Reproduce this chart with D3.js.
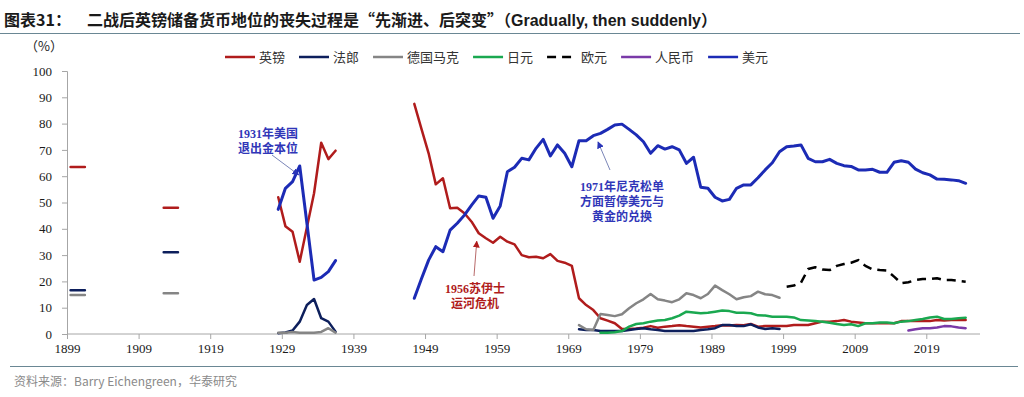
<!DOCTYPE html>
<html>
<head>
<meta charset="utf-8">
<script src="https://cdn.jsdelivr.net/npm/d3@7"></script>
<style>
  body { margin: 0; background: #fff; }
  svg { display: block; }
</style>
</head>
<body>
<div id="chart"></div>
<script>
// series: [year, share %]; null breaks the line
var gbp = [
  [1899,63.5],[1900,63.5],[1901,63.5], null,
  [1912,48.0],[1913,48.0],[1914,48.0], null,
  [1928,52.0],[1929,41.0],[1930,38.9],[1931,27.5],[1933,53.5],[1934,72.7],[1935,66.5],[1936,69.7], null,
  [1947,87.5],[1948,78.0],[1949,68.7],[1950,56.9],[1951,59.2],[1952,47.8],[1953,48.0],[1954,45.9],[1955,42.7],
  [1956,38.3],[1957,36.4],[1958,34.7],[1959,37.0],[1960,35.1],[1961,34.1],[1962,30.0],[1963,29.2],[1964,29.4],
  [1965,28.8],[1966,30.4],[1967,27.8],[1968,27.1],[1969,25.9],[1970,13.6],[1971,11.0],[1972,9.1],[1973,6.0],
  [1974,5.1],[1975,4.1],[1976,1.9],[1977,1.9],[1978,2.1],[1979,2.4],[1980,3.0],[1981,2.4],[1982,2.8],[1983,3.0],
  [1984,3.3],[1985,3.0],[1986,2.8],[1987,2.5],[1988,2.8],[1989,3.0],[1990,3.3],[1991,3.2],[1992,3.4],[1993,3.3],
  [1994,3.8],[1995,2.8],[1996,3.0],[1997,3.0],[1998,3.0],[1999,3.0],[2000,3.4],[2001,3.4],[2002,3.4],[2003,4.1],
  [2004,4.7],[2005,4.7],[2006,4.9],[2007,5.3],[2008,4.7],[2009,4.4],[2010,4.1],[2011,4.1],[2012,4.1],[2013,4.1],
  [2014,4.1],[2015,4.9],[2016,4.9],[2017,4.9],[2018,4.9],[2019,4.9],[2020,5.3],[2021,5.1],[2022,5.3],[2023,5.3],[2024,5.3]
];
var frf = [
  [1899,16.6],[1900,16.6],[1901,16.6], null,
  [1912,31.1],[1913,31.1],[1914,31.1], null,
  [1928,0.3],[1929,0.6],[1930,1.3],[1931,4.7],[1932,11.0],[1933,13.3],[1934,6.0],[1935,4.7],[1936,0.9], null,
  [1970,1.8],[1971,1.5],[1972,1.5],[1973,1.1],[1974,1.1],[1975,1.1],[1976,1.1],[1977,1.5],[1978,1.9],[1979,2.2],
  [1980,1.8],[1981,1.5],[1982,1.1],[1983,1.1],[1984,1.1],[1985,1.1],[1986,1.1],[1987,1.5],[1988,1.8],[1989,2.2],
  [1990,3.4],[1991,3.4],[1992,3.0],[1993,3.0],[1994,3.7],[1995,2.5],[1996,1.9],[1997,2.2],[1998,1.9]
];
var dem = [
  [1899,14.8],[1900,14.8],[1901,14.8], null,
  [1912,15.5],[1913,15.5],[1914,15.5], null,
  [1928,0.5],[1929,0.5],[1930,0.8],[1931,0.5],[1932,0.5],[1933,0.5],[1934,0.8],[1935,2.2],[1936,0.5], null,
  [1970,3.4],[1971,1.8],[1972,1.5],[1973,7.6],[1974,7.2],[1975,6.8],[1976,7.5],[1977,9.8],[1978,11.7],[1979,13.2],
  [1980,15.2],[1981,13.2],[1982,12.7],[1983,12.1],[1984,13.2],[1985,15.5],[1986,14.8],[1987,13.6],[1988,15.2],
  [1989,18.4],[1990,16.7],[1991,15.1],[1992,13.2],[1993,14.0],[1994,14.4],[1995,16.1],[1996,15.1],[1997,14.8],[1998,13.8]
];
var jpy = [
  [1973,0.5],[1974,0.5],[1975,0.7],[1976,1.1],[1977,2.8],[1978,3.8],[1979,4.1],[1980,4.7],[1981,5.1],[1982,5.3],
  [1983,6.0],[1984,7.0],[1985,8.5],[1986,8.2],[1987,7.9],[1988,8.1],[1989,8.5],[1990,8.9],[1991,8.7],[1992,8.1],
  [1993,8.1],[1994,7.9],[1995,7.1],[1996,7.0],[1997,6.6],[1998,6.6],[1999,6.6],[2000,6.3],[2001,5.3],[2002,5.1],
  [2003,4.9],[2004,4.7],[2005,4.3],[2006,3.8],[2007,3.4],[2008,3.7],[2009,3.0],[2010,4.1],[2011,4.1],[2012,4.4],
  [2013,4.4],[2014,4.1],[2015,4.7],[2016,4.9],[2017,5.3],[2018,5.7],[2019,6.3],[2020,6.6],[2021,5.7],[2022,5.7],
  [2023,6.0],[2024,6.2]
];
var eur = [
  [1999,18.0],[2000,18.4],[2001,19.5],[2002,24.7],[2003,25.4],[2004,24.5],[2005,24.3],[2006,25.9],[2007,26.6],
  [2008,27.1],[2009,28.1],[2010,25.9],[2011,24.6],[2012,24.3],[2013,24.1],[2014,21.8],[2015,19.3],[2016,19.7],
  [2017,20.5],[2018,20.9],[2019,20.9],[2020,21.2],[2021,20.5],[2022,20.5],[2023,20.2],[2024,19.9]
];
var rmb = [
  [2016,1.3],[2017,1.8],[2018,2.2],[2019,2.2],[2020,2.5],[2021,3.0],[2022,2.9],[2023,2.5],[2024,2.2]
];
var usd = [
  [1928,47.4],[1929,55.4],[1930,57.9],[1931,63.9],[1933,20.5],[1934,21.5],[1935,23.7],[1936,27.9], null,
  [1947,13.6],[1948,21.0],[1949,28.1],[1950,33.2],[1951,31.3],[1952,39.5],[1953,42.1],[1954,45.2],[1955,49.0],
  [1956,52.5],[1957,52.0],[1958,44.0],[1959,48.7],[1960,61.7],[1961,63.4],[1962,66.8],[1963,66.2],[1964,70.6],
  [1965,74.0],[1966,67.7],[1967,71.9],[1968,68.7],[1969,63.6],[1970,73.5],[1971,73.5],[1972,75.4],[1973,76.3],
  [1974,77.8],[1975,79.5],[1976,79.8],[1977,77.8],[1978,75.7],[1979,73.1],[1980,68.7],[1981,71.6],[1982,70.3],
  [1983,71.2],[1984,70.0],[1985,64.9],[1986,67.2],[1987,55.8],[1988,55.4],[1989,52.0],[1990,50.6],[1991,51.2],
  [1992,55.4],[1993,56.7],[1994,56.7],[1995,59.4],[1996,62.4],[1997,65.1],[1998,69.3],[1999,71.2],[2000,71.5],
  [2001,71.9],[2002,66.8],[2003,65.5],[2004,65.5],[2005,66.4],[2006,64.9],[2007,64.0],[2008,63.7],[2009,62.4],
  [2010,62.4],[2011,62.6],[2012,61.5],[2013,61.5],[2014,65.3],[2015,65.9],[2016,65.3],[2017,62.7],[2018,61.3],
  [2019,60.5],[2020,58.9],[2021,58.8],[2022,58.6],[2023,58.3],[2024,57.3]
];

var seriesNames = ["英镑", "法郎", "德国马克", "日元", "欧元", "人民币", "美元"];
var seriesData = [gbp, frf, dem, jpy, eur, rmb, usd];
var seriesColors = ["#b01c1c", "#0d1f5c", "#858585", "#1aa850", "#000000", "#7a3aa8", "#1c2bb5"];
var xTickYears = [1899, 1909, 1919, 1929, 1939, 1949, 1959, 1969, 1979, 1989, 1999, 2009, 2019];
var yTicks = [0, 10, 20, 30, 40, 50, 60, 70, 80, 90, 100];

var W = 1024, H = 397;
var svg = d3.select("#chart").append("svg").attr("width", W).attr("height", H);

var cjk = "'Noto Sans CJK SC', sans-serif";
var serif = "'Liberation Serif', 'Times New Roman', serif";
var sans = "'Liberation Sans', Arial, sans-serif";

// title + rules
var title = svg.append("text")
  .attr("y", 26)
  .attr("font-family", cjk).attr("font-weight", "bold").attr("font-size", 16)
  .attr("fill", "#1a1a1a");
title.append("tspan").attr("x", 4).text("图表31：");
title.append("tspan").attr("x", 87).text("二战后英镑储备货币地位的丧失过程是“先渐进、后突变”（");
title.append("tspan").attr("font-family", sans).text("Gradually, then suddenly");
title.append("tspan").text("）");

svg.append("line").attr("x1", 0).attr("x2", 1020).attr("y1", 33.5).attr("y2", 33.5)
  .attr("stroke", "#6a8794").attr("stroke-width", 1.2);
svg.append("line").attr("x1", 10).attr("x2", 1018).attr("y1", 366.5).attr("y2", 366.5)
  .attr("stroke", "#6a8794").attr("stroke-width", 1.2);
svg.append("text")
  .attr("x", 14).attr("y", 386)
  .attr("font-family", cjk).attr("font-size", 12).attr("fill", "#8a8a8a")
  .text("资料来源：Barry Eichengreen，华泰研究");

svg.append("text")
  .attr("x", 25).attr("y", 51)
  .attr("font-family", cjk).attr("font-size", 13).attr("fill", "#222")
  .text("（%）");

// scales
var x = d3.scaleLinear().domain([1899, 2026.5]).range([67, 980]);
var y = d3.scaleLinear().domain([0, 100]).range([334, 71]);

// axes
var yAxis = svg.append("g").attr("transform", "translate(67,0)")
  .call(d3.axisLeft(y).tickValues(yTicks).tickSize(5).tickPadding(10));
var xAxis = svg.append("g").attr("transform", "translate(0,334)")
  .call(d3.axisBottom(x).tickValues(xTickYears).tickFormat(d3.format("d")).tickSize(5).tickPadding(5));
[yAxis, xAxis].forEach(function (g) {
  g.select(".domain").attr("stroke", "#a6a6a6");
  g.selectAll(".tick line").attr("stroke", "#a6a6a6");
  g.selectAll(".tick text").attr("font-family", serif).attr("font-size", 13).attr("fill", "#1a1a1a");
});
xAxis.select(".domain").attr("d", "M67,0H980");

// lines
var line = d3.line()
  .defined(function (d) { return d !== null; })
  .x(function (d) { return x(d[0] + 0.5); })
  .y(function (d) { return y(d[1]); });

seriesData.forEach(function (data, i) {
  svg.append("path")
    .datum(data)
    .attr("d", line)
    .attr("fill", "none")
    .attr("stroke", seriesColors[i])
    .attr("stroke-width", i === 6 ? 3 : 2.5)
    .attr("stroke-linejoin", "round")
    .attr("stroke-linecap", i === 4 ? "butt" : "round")
    .attr("stroke-dasharray", i === 4 ? "9,6" : null);
});

// legend
var legend = svg.append("g").attr("transform", "translate(225,57)");
var lx = 0;
seriesNames.forEach(function (name, i) {
  legend.append("line")
    .attr("x1", lx).attr("x2", lx + 30).attr("y1", 0).attr("y2", 0)
    .attr("stroke", seriesColors[i]).attr("stroke-width", 2.5)
    .attr("stroke-dasharray", i === 4 ? "9,6" : null);
  var t = legend.append("text")
    .attr("x", lx + 34).attr("y", 0).attr("dy", "0.35em")
    .attr("font-family", cjk).attr("font-size", 13).attr("fill", "#333")
    .text(name);
  lx += 34 + t.node().getComputedTextLength() + 14;
});

// annotations
var defs = svg.append("defs");
function marker(id, color) {
  defs.append("marker").attr("id", id)
    .attr("viewBox", "0 0 10 10").attr("refX", 9).attr("refY", 5)
    .attr("markerWidth", 7).attr("markerHeight", 7).attr("orient", "auto")
    .append("path").attr("d", "M0,0L10,5L0,10z").attr("fill", color);
}
marker("arrBlue", "#2a35b8");
marker("arrRed", "#b01c1c");

function note(lines, cx, y0, color) {
  lines.forEach(function (s, k) {
    svg.append("text")
      .attr("x", cx).attr("y", y0 + k * 15)
      .attr("text-anchor", "middle")
      .attr("font-family", serif + ", " + cjk).attr("font-weight", "bold")
      .attr("font-size", 12).attr("fill", color)
      .text(s);
  });
}
function arrow(x1, y1, x2, y2, color, mk) {
  svg.append("line")
    .attr("x1", x1).attr("y1", y1).attr("x2", x2).attr("y2", y2)
    .attr("stroke", color).attr("stroke-width", 1)
    .attr("marker-end", "url(#" + mk + ")");
}

note(["1931年美国", "退出金本位"], 268, 138, "#3036b8");
arrow(272, 155, x(1931.5) - 1, y(63.9) + 9, "#7b86b8", "arrBlue");

note(["1956苏伊士", "运河危机"], 475, 293, "#b01c1c");
arrow(474, 276, x(1956.5) - 2, y(38.3) + 8, "#b86a6a", "arrRed");

note(["1971年尼克松单", "方面暂停美元与", "黄金的兑换"], 622, 191, "#3036b8");
arrow(610, 170, 598, 142, "#7b86b8", "arrBlue");
</script>
</body>
</html>
